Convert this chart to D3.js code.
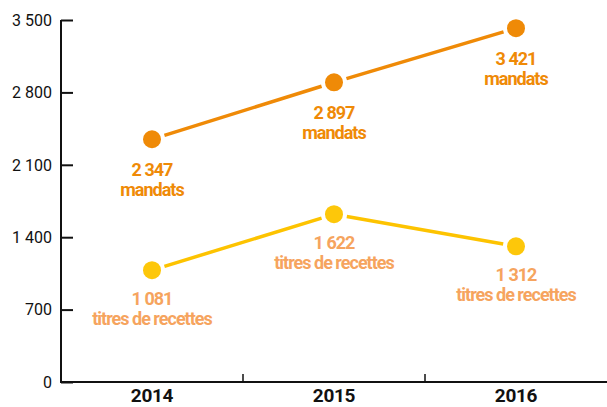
<!DOCTYPE html>
<html>
<head>
<meta charset="utf-8">
<script src="https://cdn.jsdelivr.net/npm/d3@7"></script>
<style>
    body { margin: 0; background: #fff; }
    svg { display: block; font-family: Roboto, "Liberation Sans", sans-serif; }
</style>
</head>
<body>
<div id="chart"></div>
<script>
// data
let years = ["2014", "2015", "2016"];
let mandats = [2347, 2897, 3421];
let titres = [1081, 1622, 1312];
let yTicks = [0, 700, 1400, 2100, 2800, 3500];

let width = 607, height = 407;
let margin = {top: 20, right: 0, bottom: 25, left: 61};

let fr = d3.formatLocale({decimal: ",", thousands: " ", grouping: [3], currency: ["", " €"]});
let fmt = fr.format(",d");

let svg = d3.select("#chart").append("svg")
    .attr("width", width)
    .attr("height", height);

let x = d3.scaleBand()
    .domain(years)
    .range([margin.left, width - margin.right]);

let y = d3.scaleLinear()
    .domain([0, 3500])
    .range([height - margin.bottom, margin.top]);

// y axis
let yAxis = d3.axisRight(y)
    .tickValues(yTicks)
    .tickSize(12)
    .tickFormat("");

let gy = svg.append("g")
    .attr("transform", `translate(${margin.left},0)`)
    .call(yAxis);
gy.select(".domain").attr("stroke", "#111").attr("stroke-width", 2).attr("d", `M0,${y(3500)}V${y(0)}`);
gy.selectAll(".tick line").attr("stroke", "#111").attr("stroke-width", 2);

svg.append("g").selectAll("text")
    .data(yTicks)
    .enter().append("text")
    .attr("x", margin.left - 9)
    .attr("y", d => y(d))
    .attr("dy", "0.36em")
    .attr("text-anchor", "end")
    .attr("font-size", 16)
    .attr("fill", "#111")
    .text(d => fmt(d));

// x axis
let xAxis = svg.append("g");
xAxis.append("line")
    .attr("x1", margin.left - 1)
    .attr("x2", width)
    .attr("y1", y(0))
    .attr("y2", y(0))
    .attr("stroke", "#111")
    .attr("stroke-width", 2);
xAxis.selectAll(".xtick")
    .data(years.slice(1))
    .enter().append("line")
    .attr("class", "xtick")
    .attr("x1", d => x(d))
    .attr("x2", d => x(d))
    .attr("y1", y(0))
    .attr("y2", y(0) - 8)
    .attr("stroke", "#111")
    .attr("stroke-width", 1.5);
xAxis.selectAll(".xlabel")
    .data(years)
    .enter().append("text")
    .attr("class", "xlabel")
    .attr("x", d => x(d) + x.bandwidth() / 2)
    .attr("y", y(0) + 20)
    .attr("text-anchor", "middle")
    .attr("font-size", 19)
    .attr("font-weight", "bold")
    .attr("letter-spacing", "-0.3px")
    .attr("fill", "#111")
    .text(d => d);

let r = 9;

function drawSeries(values, lineColor, dotColor, labelColor, unit, off1, off2) {
    let pts = values.map((v, i) => ({x: x(years[i]) + x.bandwidth() / 2, y: y(v), v: v}));

    // segments with a small gap before each dot
    let gap = r + 4;
    let segs = [];
    for (let i = 0; i < pts.length - 1; i++) {
        let a = pts[i], b = pts[i + 1];
        let dx = b.x - a.x, dy = b.y - a.y;
        let len = Math.sqrt(dx * dx + dy * dy);
        segs.push({
            x1: a.x + dx / len * gap, y1: a.y + dy / len * gap,
            x2: b.x - dx / len * gap, y2: b.y - dy / len * gap
        });
    }
    svg.append("g").selectAll("line")
        .data(segs)
        .enter().append("line")
        .attr("x1", d => d.x1).attr("y1", d => d.y1)
        .attr("x2", d => d.x2).attr("y2", d => d.y2)
        .attr("stroke", lineColor)
        .attr("stroke-width", 3.5);

    svg.append("g").selectAll("circle")
        .data(pts)
        .enter().append("circle")
        .attr("cx", d => d.x)
        .attr("cy", d => d.y)
        .attr("r", r)
        .attr("fill", dotColor);

    let lbl = svg.append("g").selectAll("text")
        .data(pts)
        .enter().append("text")
        .attr("text-anchor", "middle")
        .attr("font-size", 18)
        .attr("font-weight", "bold")
        .attr("letter-spacing", "-1px")
        .attr("fill", labelColor);
    lbl.append("tspan")
        .attr("x", d => d.x)
        .attr("y", d => d.y + off1)
        .text(d => fmt(d.v));
    lbl.append("tspan")
        .attr("x", d => d.x)
        .attr("y", d => d.y + off2)
        .text(unit);
}

drawSeries(mandats, "#EF8A07", "#EF8A07", "#EF8A07", "mandats", 37, 57);
drawSeries(titres, "#FDC300", "#FDC70A", "#F6A45E", "titres de recettes", 34.5, 55);
</script>
</body>
</html>
